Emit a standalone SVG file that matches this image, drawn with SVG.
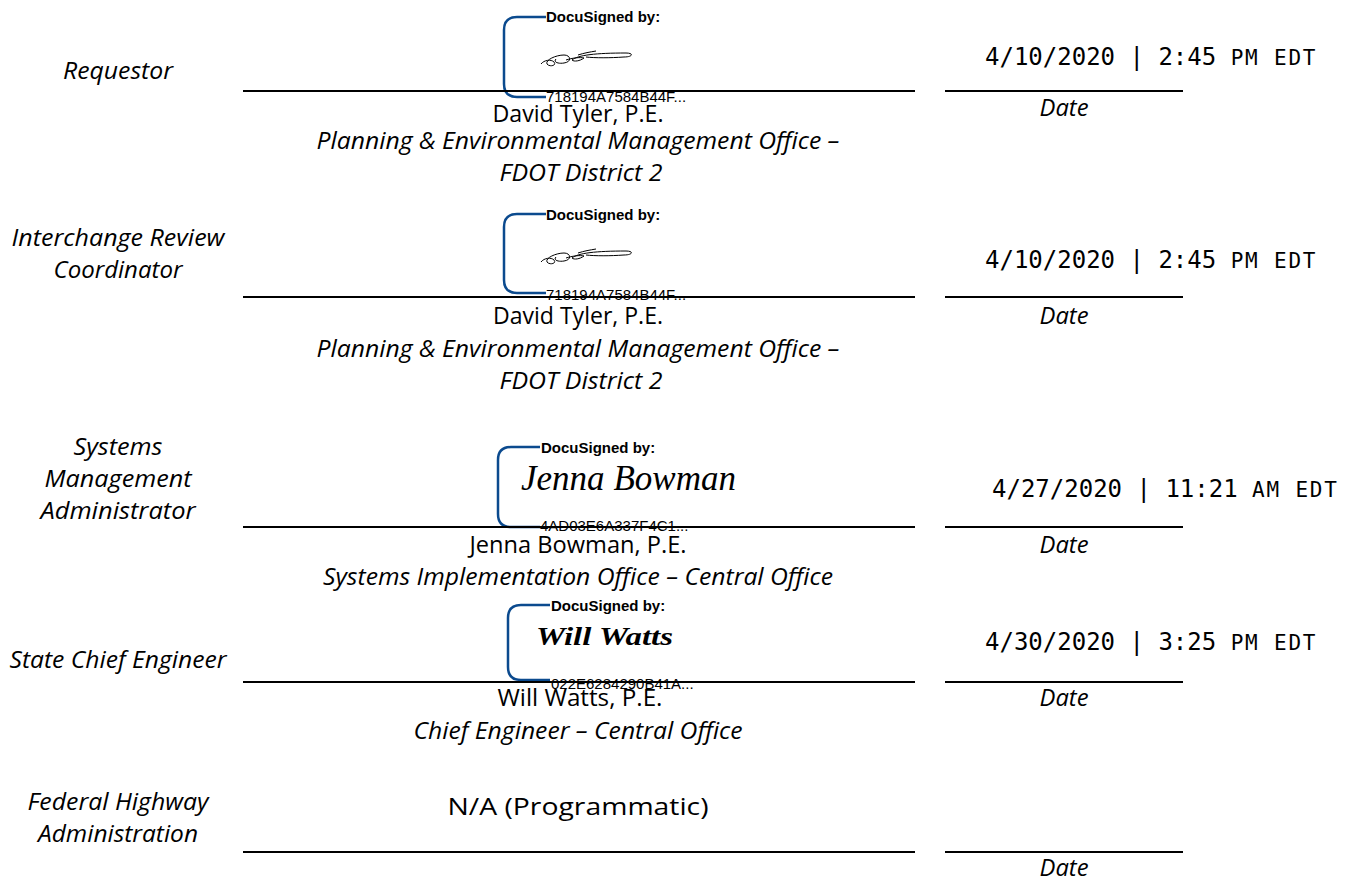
<svg xmlns="http://www.w3.org/2000/svg" width="1357" height="880" viewBox="0 0 1357 880">
<style>
.lbl{font-family:"Open Sans","Liberation Sans",sans-serif;font-style:italic;font-size:24px;fill:#000;text-anchor:middle}
.nm{font-family:"Open Sans","Liberation Sans",sans-serif;font-size:24px;fill:#000;text-anchor:middle}
.it{font-family:"Open Sans","Liberation Sans",sans-serif;font-style:italic;font-size:24px;fill:#000;text-anchor:middle}
.dt{font-family:"DejaVu Sans Mono","Liberation Mono",monospace;font-size:24px;fill:#000}
.sm{font-size:21px;letter-spacing:1.8px}
.ds{font-family:"Liberation Sans",Arial,sans-serif;font-weight:bold;font-size:15px;fill:#000}
.id{font-family:"Liberation Sans",Arial,sans-serif;font-size:15px;fill:#000}
.br{fill:none;stroke:#0b4a8e;stroke-width:2.5}
.ln{stroke:#000;stroke-width:2}
.scr{fill:none;stroke:#000;stroke-width:1}
</style>
<defs>
<path id="dtsig" class="scr" d="M541,64 C544,60 551,59 554,62 C557,66 549,67 547,64 C545,60 556,55 564,55 C571,55 572,62 564,63 C558,64 553,62 556,59 M566,60 C572,58 580,57 584,58 C580,61 574,62 572,60 C578,55 596,53 626,53 C634,53 633,57 624,57 C610,58 595,58 586,57 M578,55 C584,53 590,52 596,51"/>
</defs>
<rect width="1357" height="880" fill="#fff"/>

<g id="requestor">
<text class="lbl" x="118" y="79" textLength="110" lengthAdjust="spacingAndGlyphs">Requestor</text>
<path class="br" d="M546,17 H517 Q504,17 504,30 V84 Q504,97 517,97 H546"/>
<text class="ds" x="546" y="22">DocuSigned by:</text>
<use href="#dtsig"/>
<text class="id" x="546" y="102">718194A7584B44F...</text>
<text class="dt" x="985" y="65">4/10/2020 | 2:45 <tspan class="sm">PM EDT</tspan></text>
<text class="nm" x="578" y="122" textLength="171" lengthAdjust="spacingAndGlyphs">David Tyler, P.E.</text>
<text class="it" x="1064" y="116" textLength="49" lengthAdjust="spacingAndGlyphs">Date</text>
<text class="it" x="578" y="149" textLength="523" lengthAdjust="spacingAndGlyphs">Planning &amp; Environmental Management Office –</text>
<text class="it" x="581" y="181" textLength="163" lengthAdjust="spacingAndGlyphs">FDOT District 2</text>
</g>

<g id="interchange-review">
<text class="lbl" x="118" y="246" textLength="213" lengthAdjust="spacingAndGlyphs">Interchange Review</text>
<text class="lbl" x="118" y="278" textLength="129" lengthAdjust="spacingAndGlyphs">Coordinator</text>
<path class="br" d="M546,214 H517 Q504,214 504,227 V280 Q504,293 517,293 H546"/>
<text class="ds" x="546" y="220">DocuSigned by:</text>
<use href="#dtsig" transform="translate(0,198)"/>
<text class="id" x="546" y="300">718194A7584B44F...</text>
<text class="dt" x="985" y="268">4/10/2020 | 2:45 <tspan class="sm">PM EDT</tspan></text>
<text class="nm" x="578" y="324" textLength="170" lengthAdjust="spacingAndGlyphs">David Tyler, P.E.</text>
<text class="it" x="1064" y="324" textLength="49" lengthAdjust="spacingAndGlyphs">Date</text>
<text class="it" x="578" y="357" textLength="523" lengthAdjust="spacingAndGlyphs">Planning &amp; Environmental Management Office –</text>
<text class="it" x="581" y="389" textLength="163" lengthAdjust="spacingAndGlyphs">FDOT District 2</text>
</g>

<g id="systems-management">
<text class="lbl" x="118" y="455" textLength="89" lengthAdjust="spacingAndGlyphs">Systems</text>
<text class="lbl" x="118" y="487" textLength="147" lengthAdjust="spacingAndGlyphs">Management</text>
<text class="lbl" x="118" y="519" textLength="155" lengthAdjust="spacingAndGlyphs">Administrator</text>
<path class="br" d="M540,447 H511 Q498,447 498,460 V514 Q498,527 511,527 H540"/>
<text class="ds" x="541" y="453">DocuSigned by:</text>
<text x="521" y="490" font-family="'Liberation Serif',serif" font-style="italic" font-size="36" textLength="215" lengthAdjust="spacingAndGlyphs">Jenna Bowman</text>
<text class="id" x="540" y="531">4AD03E6A337F4C1...</text>
<text class="dt" x="992" y="497">4/27/2020 | 11:21 <tspan class="sm">AM EDT</tspan></text>
<text class="nm" x="578" y="553" textLength="217" lengthAdjust="spacingAndGlyphs">Jenna Bowman, P.E.</text>
<text class="it" x="1064" y="553" textLength="49" lengthAdjust="spacingAndGlyphs">Date</text>
<text class="it" x="578" y="585" textLength="510" lengthAdjust="spacingAndGlyphs">Systems Implementation Office – Central Office</text>
</g>

<g id="state-chief-engineer">
<text class="lbl" x="118" y="668" textLength="217" lengthAdjust="spacingAndGlyphs">State Chief Engineer</text>
<path class="br" d="M550,605 H521 Q508,605 508,618 V667 Q508,680 521,680 H550"/>
<text class="ds" x="551" y="611">DocuSigned by:</text>
<text x="536" y="645" font-family="'Liberation Serif',serif" font-style="italic" font-weight="bold" font-size="26" textLength="137" lengthAdjust="spacingAndGlyphs">Will Watts</text>
<text class="id" x="551" y="689">022E6284290B41A...</text>
<text class="dt" x="985" y="650">4/30/2020 | 3:25 <tspan class="sm">PM EDT</tspan></text>
<text class="nm" x="580" y="706" textLength="165" lengthAdjust="spacingAndGlyphs">Will Watts, P.E.</text>
<text class="it" x="1064" y="706" textLength="49" lengthAdjust="spacingAndGlyphs">Date</text>
<text class="it" x="578" y="739" textLength="329" lengthAdjust="spacingAndGlyphs">Chief Engineer – Central Office</text>
</g>

<g id="fhwa">
<text class="lbl" x="118" y="810" textLength="181" lengthAdjust="spacingAndGlyphs">Federal Highway</text>
<text class="lbl" x="118" y="842" textLength="160" lengthAdjust="spacingAndGlyphs">Administration</text>
<text class="nm" x="578" y="815" font-size="29" textLength="261" lengthAdjust="spacingAndGlyphs">N/A (Programmatic)</text>
<text class="it" x="1064" y="876" textLength="49" lengthAdjust="spacingAndGlyphs">Date</text>
</g>

<g id="connectors">
<line class="ln" x1="243" y1="91" x2="915" y2="91"/>
<line class="ln" x1="945" y1="91" x2="1183" y2="91"/>
<line class="ln" x1="243" y1="297" x2="915" y2="297"/>
<line class="ln" x1="945" y1="297" x2="1183" y2="297"/>
<line class="ln" x1="243" y1="527" x2="915" y2="527"/>
<line class="ln" x1="945" y1="527" x2="1183" y2="527"/>
<line class="ln" x1="243" y1="682" x2="915" y2="682"/>
<line class="ln" x1="945" y1="682" x2="1183" y2="682"/>
<line class="ln" x1="243" y1="852" x2="915" y2="852"/>
<line class="ln" x1="945" y1="852" x2="1183" y2="852"/>
</g>
</svg>
